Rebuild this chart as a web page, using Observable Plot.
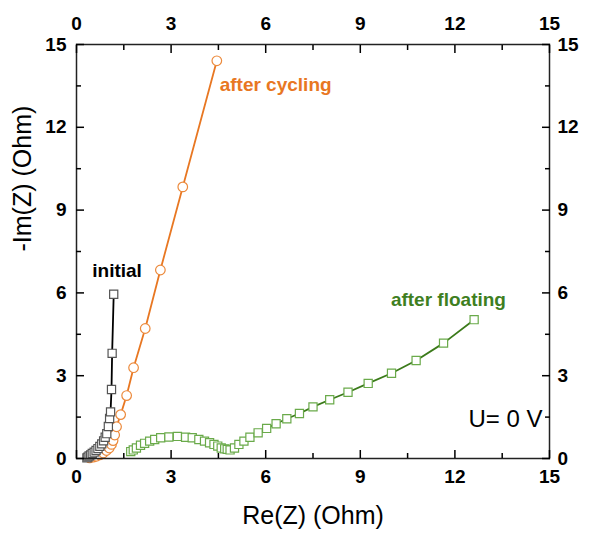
<!DOCTYPE html>
<html><head><meta charset="utf-8">
<script src="https://cdn.jsdelivr.net/npm/d3@7"></script>
<script src="https://cdn.jsdelivr.net/npm/@observablehq/plot@0.6"></script>
<style>body{margin:0;background:#fff} #chart{width:600px;height:533px}</style>
</head><body><div id="chart"></div>
<script>
// Nyquist data: Re(Z) and -Im(Z), in Ohm
const initialRe = [0.33,0.36,0.40,0.45,0.50,0.56,0.62,0.68,0.74,0.80,0.86,0.91,0.96,1.01,1.05,1.08,1.11,1.13,1.18];
const initialIm = [0.02,0.05,0.09,0.13,0.18,0.23,0.29,0.36,0.44,0.53,0.64,0.77,0.90,1.16,1.45,1.69,2.50,3.81,5.95];

const cyclingRe = [0.42,0.53,0.63,0.74,0.85,0.95,1.04,1.11,1.16,1.21,1.27,1.40,1.59,1.81,2.18,2.66,3.37,4.45];
const cyclingIm = [0.02,0.05,0.08,0.13,0.20,0.29,0.38,0.51,0.65,0.85,1.15,1.59,2.28,3.29,4.71,6.83,9.84,14.41];

const floatingRe = [1.72,1.80,1.90,2.03,2.16,2.32,2.48,2.67,2.93,3.20,3.46,3.67,3.88,4.06,4.22,4.36,4.48,4.59,4.70,4.78,4.87,5.01,5.15,5.31,5.50,5.76,6.03,6.33,6.67,7.07,7.50,8.03,8.61,9.25,9.99,10.77,11.64,12.61];
const floatingIm = [0.25,0.31,0.38,0.48,0.55,0.63,0.69,0.75,0.78,0.80,0.77,0.75,0.69,0.63,0.57,0.51,0.45,0.38,0.35,0.33,0.31,0.38,0.51,0.63,0.77,0.93,1.09,1.26,1.44,1.63,1.87,2.13,2.40,2.72,3.09,3.55,4.18,5.03];

const majorTicks = [0,3,6,9,12,15];
const minorTicks = [1.5,4.5,7.5,10.5,13.5];

const labels = [
  {text:"initial", x:0.50, y:6.78, color:"#000000"},
  {text:"after cycling", x:4.54, y:13.53, color:"#e87722"},
  {text:"after floating", x:9.97, y:5.73, color:"#3f7f1f"}
];
const condition = "U= 0 V";

const rows = (xs, ys) => xs.map((x, i) => ({x, y: ys[i]}));
const initial = rows(initialRe, initialIm);
const cycling = rows(cyclingRe, cyclingIm);
const floating = rows(floatingRe, floatingIm);

const tickAxes = [];
for (const [t, len] of [[majorTicks, 8], [minorTicks, 5]]) {
  tickAxes.push(
    Plot.axisX({ticks: t, anchor: "bottom", tickSize: len, dy: -len, tickFormat: () => "", label: null, strokeWidth: 1.5}),
    Plot.axisX({ticks: t, anchor: "top", tickSize: len, dy: len, tickFormat: () => "", label: null, strokeWidth: 1.5}),
    Plot.axisY({ticks: t, anchor: "left", tickSize: len, dx: len, tickFormat: () => "", label: null, strokeWidth: 1.5}),
    Plot.axisY({ticks: t, anchor: "right", tickSize: len, dx: -len, tickFormat: () => "", label: null, strokeWidth: 1.5})
  );
}
const lab = {fontSize: 19, fontWeight: "bold", tickSize: 0, label: null};

const chart = Plot.plot({
  width: 600, height: 533,
  marginLeft: 76, marginRight: 51, marginTop: 44, marginBottom: 75,
  x: {domain: [0, 15]}, y: {domain: [0, 15]},
  style: {fontFamily: "'Liberation Sans', Arial, sans-serif", background: "#fff", color: "#000", overflow: "visible"},
  marks: [
    Plot.line(floating, {x: "x", y: "y", stroke: "#3b7a1a", strokeWidth: 1.8}),
    Plot.dot(floating, {x: "x", y: "y", symbol: "square", r: 4.6, stroke: "#6aaa4a", strokeWidth: 1.2, fill: "white"}),
    Plot.line(cycling, {x: "x", y: "y", stroke: "#e87722", strokeWidth: 1.8}),
    Plot.dot(cycling, {x: "x", y: "y", r: 4.8, stroke: "#ec8a3c", strokeWidth: 1.2, fill: "white"}),
    Plot.line(initial, {x: "x", y: "y", stroke: "#000", strokeWidth: 1.8}),
    Plot.dot(initial, {x: "x", y: "y", symbol: "square", r: 4.6, stroke: "#555", strokeWidth: 1.2, fill: "white"}),
    Plot.frame({stroke: "#222", strokeWidth: 1.5}),
    ...tickAxes,
    Plot.axisX({ticks: majorTicks, anchor: "bottom", tickPadding: 11, ...lab}),
    Plot.axisX({ticks: majorTicks, anchor: "top", tickPadding: 15, ...lab}),
    Plot.axisY({ticks: majorTicks, anchor: "left", tickPadding: 10, ...lab}),
    Plot.axisY({ticks: majorTicks, anchor: "right", tickPadding: 8, ...lab}),
    Plot.text(labels, {x: "x", y: "y", text: "text", fill: "color", fontSize: 19, fontWeight: "bold", textAnchor: "start"}),
    Plot.text([condition], {x: () => 14.78, y: () => 1.41, text: d => d, fontSize: 24, textAnchor: "end"}),
    Plot.text(["Re(Z) (Ohm)"], {frameAnchor: "bottom", dy: 65, fontSize: 25, text: d => d}),
    Plot.text(["-Im(Z) (Ohm)"], {frameAnchor: "left", dx: -54, rotate: -90, fontSize: 25, text: d => d})
  ]
});
document.getElementById("chart").appendChild(chart);
</script>
</body></html>
